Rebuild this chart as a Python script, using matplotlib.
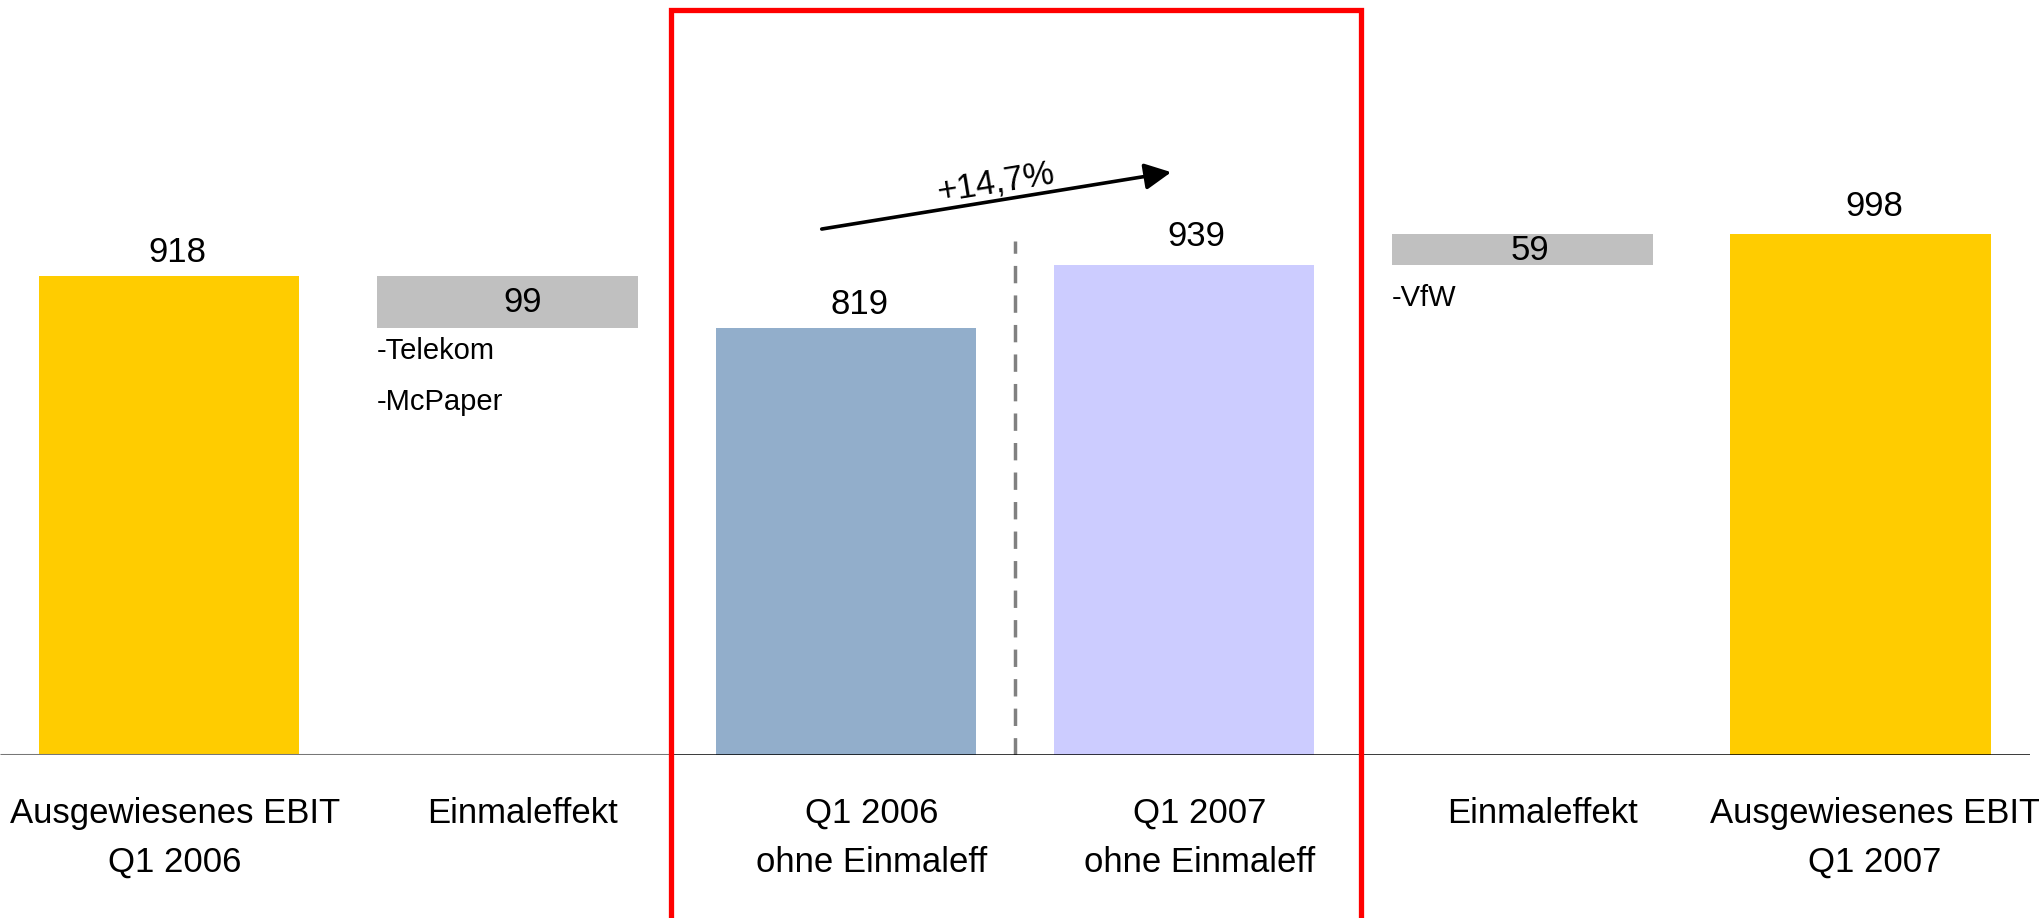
import matplotlib
matplotlib.use("Agg")
import matplotlib.pyplot as plt
from matplotlib.patches import Rectangle

plt.rcParams['font.family'] = ['Liberation Sans', 'DejaVu Sans']

# EBIT bridge, Q1 2006 -> Q1 2007 (Mio. EUR)
categories = ["Ausgewiesenes EBIT\nQ1 2006", "Einmaleffekt", "Q1 2006\nohne Einmaleff",
              "Q1 2007\nohne Einmaleff", "Einmaleffekt", "Ausgewiesenes EBIT\nQ1 2007"]
reported_2006 = 918
one_off_2006 = 99
adjusted_2006 = 819
adjusted_2007 = 939
one_off_2007 = 59
reported_2007 = 998
one_off_2006_items = ["-Telekom", "-McPaper"]
one_off_2007_items = ["-VfW"]

heights = [reported_2006, one_off_2006, adjusted_2006, adjusted_2007, one_off_2007, reported_2007]
bottoms = [0, reported_2006 - one_off_2006, 0, 0, adjusted_2007, 0]
colors = ["#FFCC00", "#C0C0C0", "#92AECB", "#CCCCFF", "#C0C0C0", "#FFCC00"]
is_delta = [False, True, False, False, True, False]

fig = plt.figure(figsize=(20.4, 9.18), dpi=100)
ax = fig.add_axes([0.0, 0.1776, 0.995, 0.8224])
ax.set_xlim(-0.5, 5.5)
ax.set_ylim(0, 1447)
ax.axis('off')

x = list(range(len(categories)))
ax.bar(x, heights, bottom=bottoms, width=0.77, color=colors, zorder=2)

# baseline
ax.plot([-0.5, 1.48], [0, 0], color="#777777", lw=2.2, zorder=3, solid_capstyle='butt')
ax.plot([1.48, 5.5], [0, 0], color="#000000", lw=1.8, zorder=3, solid_capstyle='butt')

# value labels
label_dx = [8, 15, 14, 12, 8, 14]
label_dy = [14, -1, 14, 19, -1, 18]
for i, (h, b) in enumerate(zip(heights, bottoms)):
    if is_delta[i]:
        ax.annotate(f"{h}", (i, b + h / 2), xytext=(label_dx[i], label_dy[i]), textcoords='offset pixels',
                    ha='center', va='center', fontsize=25, zorder=4)
    else:
        ax.annotate(f"{h}", (i, b + h), xytext=(label_dx[i], label_dy[i]), textcoords='offset pixels',
                    ha='center', va='baseline', fontsize=25, zorder=4)

# one-off item notes below the delta bars
for j, item in enumerate(one_off_2006_items):
    ax.annotate(item, (1 - 0.385, bottoms[1]), xytext=(0, -23 - 51 * j), textcoords='offset pixels',
                ha='left', va='center', fontsize=21)
for j, item in enumerate(one_off_2007_items):
    ax.annotate(item, (4 - 0.385, bottoms[4]), xytext=(0, -33 - 51 * j), textcoords='offset pixels',
                ha='left', va='center', fontsize=21)

# category labels
cat_dx = [6, 15, 26, 16, 20, 14]
for i, cat in enumerate(categories):
    for k, line in enumerate(cat.split("\n")):
        ax.annotate(line, (i, 0), xytext=(cat_dx[i], -68 - 49 * k), textcoords='offset pixels',
                    ha='center', va='baseline', fontsize=25, annotation_clip=False)

# divider between the two adjusted bars
ax.plot([2.5, 2.5], [0, 985], color="#808080", lw=2.5, ls=(0, (5, 3.5)), zorder=1)

# growth arrow
growth = adjusted_2007 / adjusted_2006 - 1
ax.annotate("", xy=(2.962, 1117), xytext=(1.929, 1008),
            arrowprops=dict(arrowstyle='-|>', lw=2.6, color='black', mutation_scale=40,
                            shrinkA=0, shrinkB=0))
ax.text(2.45, 1066, ("+" + f"{growth * 100:.1f}%").replace(".", ","), rotation=9.3,
        rotation_mode='anchor', ha='center', va='bottom', fontsize=25)

# highlight frame around the adjusted comparison
ax.add_patch(Rectangle((1.482, -400), 3.524 - 1.482, 1428 + 400, fill=False,
                       edgecolor="#FF0000", lw=3.8, clip_on=False, zorder=5))

fig.savefig("out.png", dpi=100, facecolor="white")
